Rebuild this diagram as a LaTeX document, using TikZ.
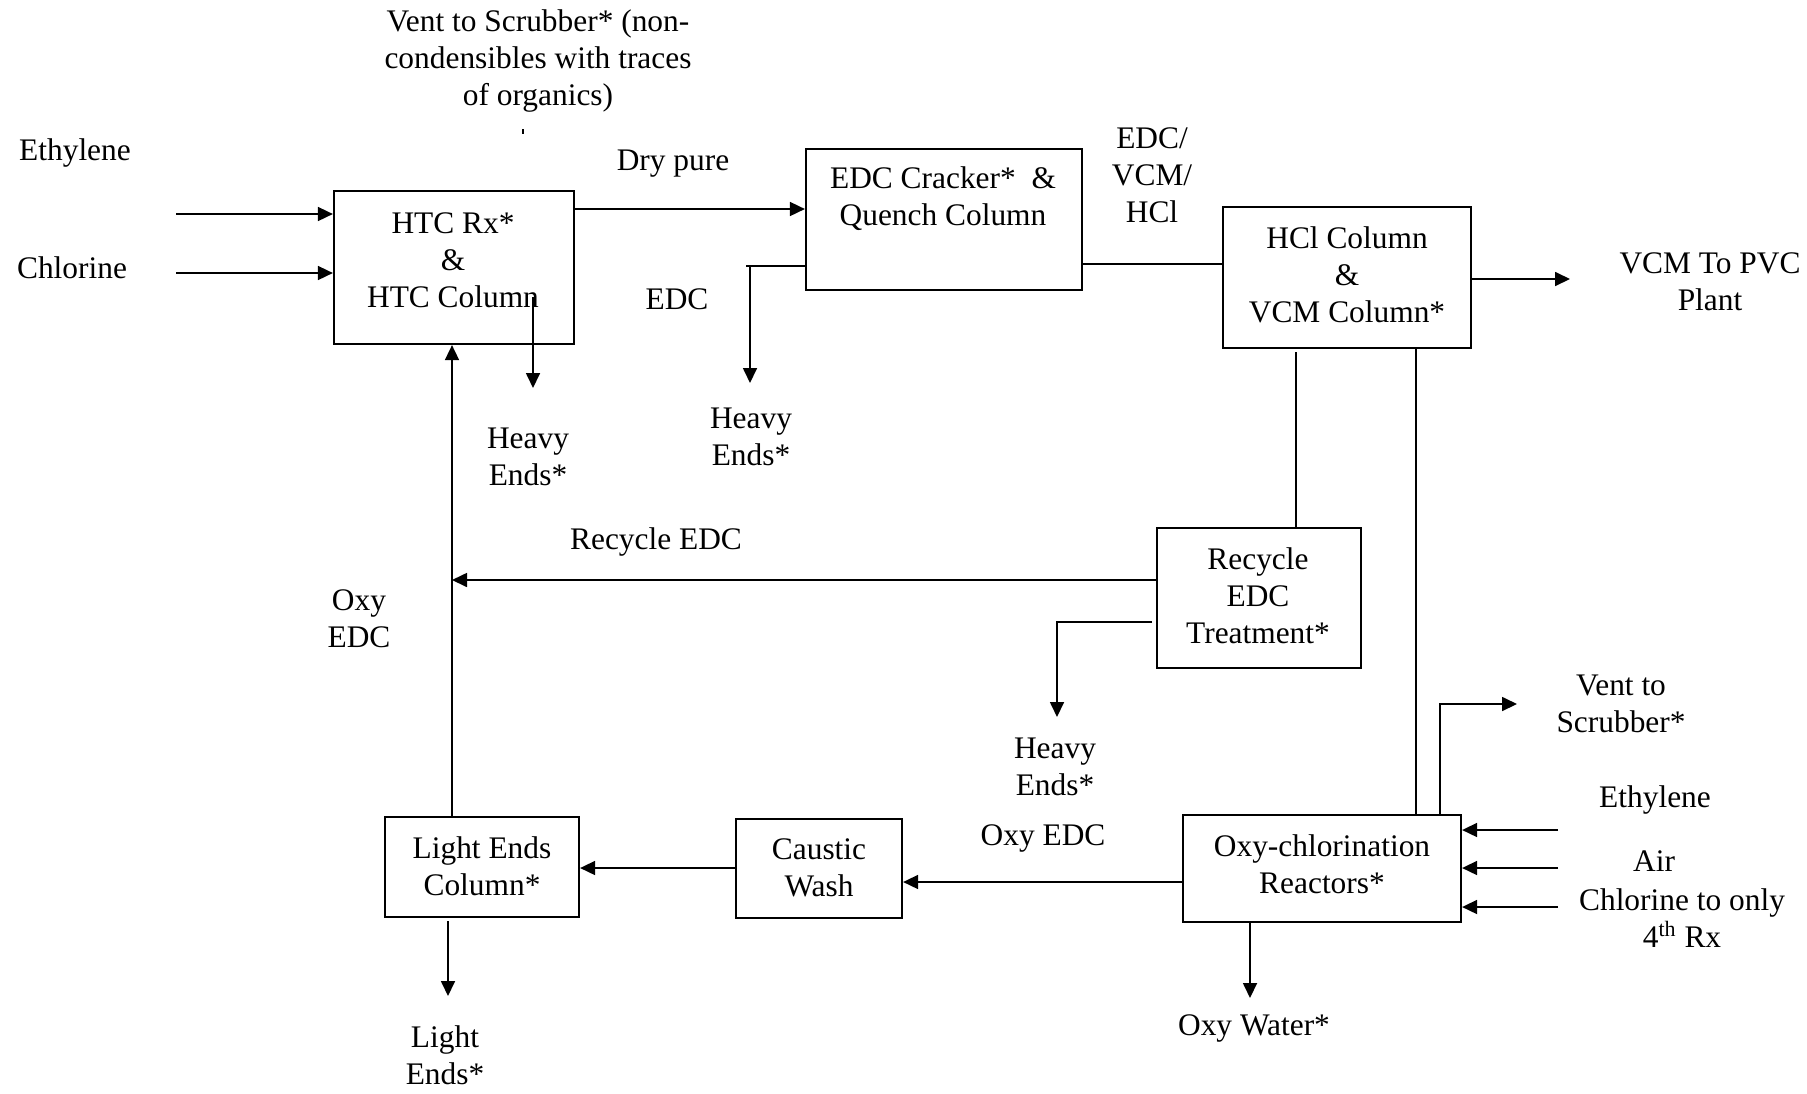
\documentclass[tikz,border=0pt]{standalone}
\usepackage{fontspec}
\setmainfont{Liberation Serif}
\usetikzlibrary{arrows.meta}
\begin{document}
\begin{tikzpicture}[x=0.5pt,y=-0.5pt,
  txt/.style={align=center,inner sep=0pt,font=\fontsize{15.7}{18.5}\selectfont},
  box/.style={draw,line width=1.1pt,inner sep=0pt},
  ln/.style={line width=0.85pt},
  arr/.style={line width=0.85pt,-{Triangle[length=7.5pt,width=7pt]}}]
\useasboundingbox (0,0) rectangle (1807,1093);
% boxes
\node[box,minimum width=120pt,minimum height=76.5pt] (htc) at (454,267.5) {};
\node[box,minimum width=138pt,minimum height=70.5pt] (crk) at (944,219.5) {};
\node[box,minimum width=124pt,minimum height=70.5pt] (hcl) at (1347,277.5) {};
\node[box,minimum width=102pt,minimum height=70pt] (rec) at (1259,598) {};
\node[box,minimum width=139pt,minimum height=53.5pt] (oxy) at (1322,868.5) {};
\node[box,minimum width=83pt,minimum height=49.5pt] (cw) at (819,868.5) {};
\node[box,minimum width=97pt,minimum height=50pt] (le) at (482,867) {};
% box texts
\node[txt] (thtc) at (453,260) {HTC Rx*\\\&\\HTC Column};
\node[txt] (tcrk) at (943,198.5) {EDC Cracker*~ \&\\Quench Column};
\node[txt] (thcl) at (1347,275) {HCl Column\\\&\\VCM Column*};
\node[txt] (trec) at (1258,596) {Recycle\\EDC\\Treatment*};
\node[txt] (toxy) at (1322,864.5) {Oxy-chlorination\\Reactors*};
\node[txt] (tcw) at (819,867.5) {Caustic\\Wash};
\node[txt] (tle) at (482,866.5) {Light Ends\\Column*};
% labels
\node[txt] (lvent1) at (538,61) {Vent to Scrubber* (non-\\condensibles with traces\\of organics)};
\node[txt] (leth1) at (75,153) {Ethylene};
\node[txt] (lchl1) at (72,268) {Chlorine};
\node[txt] (ldry) at (673,164) {Dry pure};
\node[txt] (ledc) at (677,299) {EDC};
\node[txt] (lhe1) at (528,456.5) {Heavy\\Ends*};
\node[txt] (lhe2) at (751,436.5) {Heavy\\Ends*};
\node[txt] (levh) at (1152,175) {EDC/\\VCM/\\HCl};
\node[txt] (lvcm) at (1710,282) {VCM To PVC\\Plant};
\node[txt] (lrec) at (656,542) {Recycle EDC};
\node[txt] (loxy1) at (359,618.5) {Oxy\\EDC};
\node[txt] (lhe3) at (1055,767) {Heavy\\Ends*};
\node[txt] (loxy2) at (1043,838) {Oxy EDC};
\node[txt] (lvent2) at (1621,703.5) {Vent to\\Scrubber*};
\node[txt] (leth2) at (1655,800) {Ethylene};
\node[txt] (lair) at (1654,861) {Air};
\node[txt] (lchl2) at (1682,918) {Chlorine to only\\4\textsuperscript{th}~Rx};
\node[txt] (lwat) at (1254,1028) {Oxy Water*};
\node[txt] (lle) at (445,1055.5) {Light\\Ends*};
% level coordinates
\coordinate (yEth) at (0,214);
\coordinate (yChl) at (0,273);
\coordinate (yDry) at (0,209);
\coordinate (yEdc) at (0,266);
\coordinate (yCq) at (0,264);
\coordinate (yVcm) at (0,279);
\coordinate (yRec) at (0,580);
\coordinate (yCw) at (0,868);
\coordinate (yOx) at (0,882);
\coordinate (yE2) at (0,830);
\coordinate (yA2) at (0,868);
\coordinate (yC2) at (0,907);
\coordinate (xUp) at (452,0);
\coordinate (xR1) at (1296,0);
\coordinate (xR2) at (1416,0);
\coordinate (xVent) at (1440,0);
\coordinate (xWat) at (1250,0);
\coordinate (xLe) at (448,0);
% free ends
\coordinate (ethIn) at (176,214);
\coordinate (chlIn) at (176,273);
\coordinate (he1s) at (533,297);
\coordinate (he1e) at (533,388);
\coordinate (he2c) at (750,266);
\coordinate (he2e) at (750,383);
\coordinate (he3s) at (1152,622);
\coordinate (he3e) at (1057,717);
\coordinate (vcmOut) at (1570,279);
\coordinate (ventC) at (1440,704);
\coordinate (ventE) at (1517,704);
\coordinate (eth2In) at (1558,830);
\coordinate (air2In) at (1558,868);
\coordinate (chl2In) at (1558,907);
\coordinate (watE) at (1250,998);
\coordinate (leE) at (448,996);
% connectors
\draw[arr] (ethIn) -- (ethIn -| htc.west);
\draw[arr] (chlIn) -- (chlIn -| htc.west);
\draw[arr] (htc.east |- yDry) -- (crk.west |- yDry);
\draw[arr] (he1s) -- (he1e);
\draw[line width=0.6pt] (523,129) -- (523,134);
\draw[arr] (crk.west |- yEdc) -- (746,266) (he2c) -- (he2e);
\draw[ln] (crk.east |- yCq) -- (hcl.west |- yCq);
\draw[arr] (hcl.east |- yVcm) -- (vcmOut);
\draw[ln] ([yshift=-1.5pt]hcl.south -| xR1) -- (rec.north -| xR1);
\draw[ln] (hcl.south -| xR2) -- (oxy.north -| xR2);
\draw[arr] (oxy.north -| xVent) -- (ventC) -- (ventE);
\draw[arr] (rec.west |- yRec) -- (xUp |- yRec);
\draw[arr] (he3s) -| (he3e);
\draw[arr] (le.north -| xUp) -- (htc.south -| xUp);
\draw[arr] (eth2In) -- (eth2In -| oxy.east);
\draw[arr] (air2In) -- (air2In -| oxy.east);
\draw[arr] (chl2In) -- (chl2In -| oxy.east);
\draw[arr] (oxy.south -| xWat) -- (watE);
\draw[arr] (oxy.west |- yOx) -- (cw.east |- yOx);
\draw[arr] (cw.west |- yCw) -- (le.east |- yCw);
\draw[arr] ([yshift=-1.5pt]le.south -| xLe) -- (leE);
\end{tikzpicture}
\end{document}
